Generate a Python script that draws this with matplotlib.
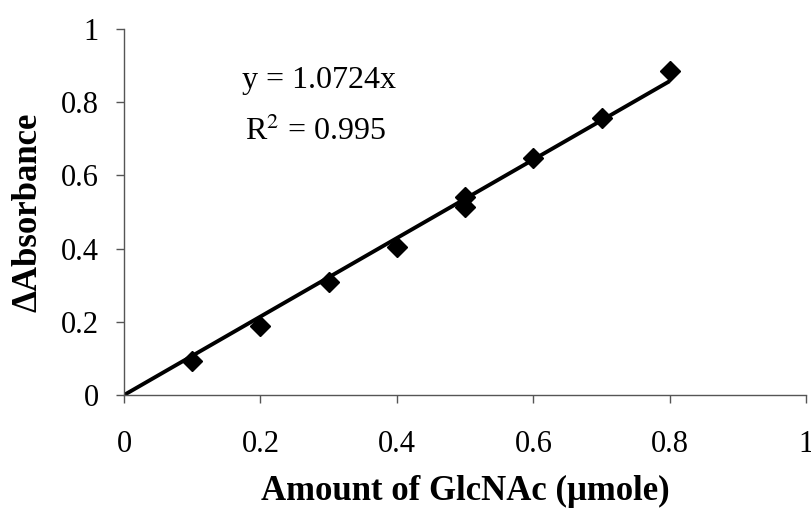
import numpy as np
import matplotlib
matplotlib.use("Agg")
import matplotlib.pyplot as plt

# GlcNAc standard curve
amount = [0.1, 0.2, 0.3, 0.4, 0.5, 0.5, 0.6, 0.7, 0.8]
absorbance = [0.094, 0.189, 0.308, 0.405, 0.542, 0.513, 0.648, 0.757, 0.886]
slope = 1.0724
r2 = 0.995
ticks = [0, 0.2, 0.4, 0.6, 0.8, 1]
tick_labels = ["0", "0.2", "0.4", "0.6", "0.8", "1"]

plt.rcParams['font.family'] = ['Liberation Serif', 'DejaVu Serif']

fig = plt.figure(figsize=(8.11, 5.11), dpi=100)
ax = fig.add_axes([0.153, 0.227, 0.841, 0.716])

fit_x = np.array([0, max(amount)])
ax.plot(fit_x, slope * fit_x, color='black', lw=2.8, solid_capstyle='butt', zorder=2)
ax.plot(amount, absorbance, linestyle='none', marker='D', ms=10,
        color='black', zorder=3, clip_on=False)

ax.set_xlim(0, 1)
ax.set_ylim(0, 1)
ax.set_xticks(ticks)
ax.set_xticklabels(tick_labels)
ax.set_yticks(ticks)
ax.set_yticklabels(tick_labels)

for s in ['top', 'right']:
    ax.spines[s].set_visible(False)
for s in ['left', 'bottom']:
    ax.spines[s].set_color('#555555')
    ax.spines[s].set_linewidth(1)

ax.tick_params(axis='x', direction='out', length=6, width=1, color='#555555',
               labelsize=22, pad=19)
ax.tick_params(axis='y', direction='out', length=6, width=1, color='#555555',
               labelsize=22, pad=12)

ax.set_xlabel('Amount of GlcNAc (\u03bcmole)', fontsize=25, fontweight='bold', labelpad=12)
ax.set_ylabel('\u0394Absorbance', fontsize=25, fontweight='bold', labelpad=12)

ax.text(0.173, 0.86, 'y = %.4fx' % slope, fontsize=23, va='center', ha='left')
ax.text(0.177, 0.72, 'R$^{2}$ = %.3f' % r2, fontsize=23, va='center', ha='left',
        math_fontfamily='stix')

fig.savefig('out.png', dpi=100)
